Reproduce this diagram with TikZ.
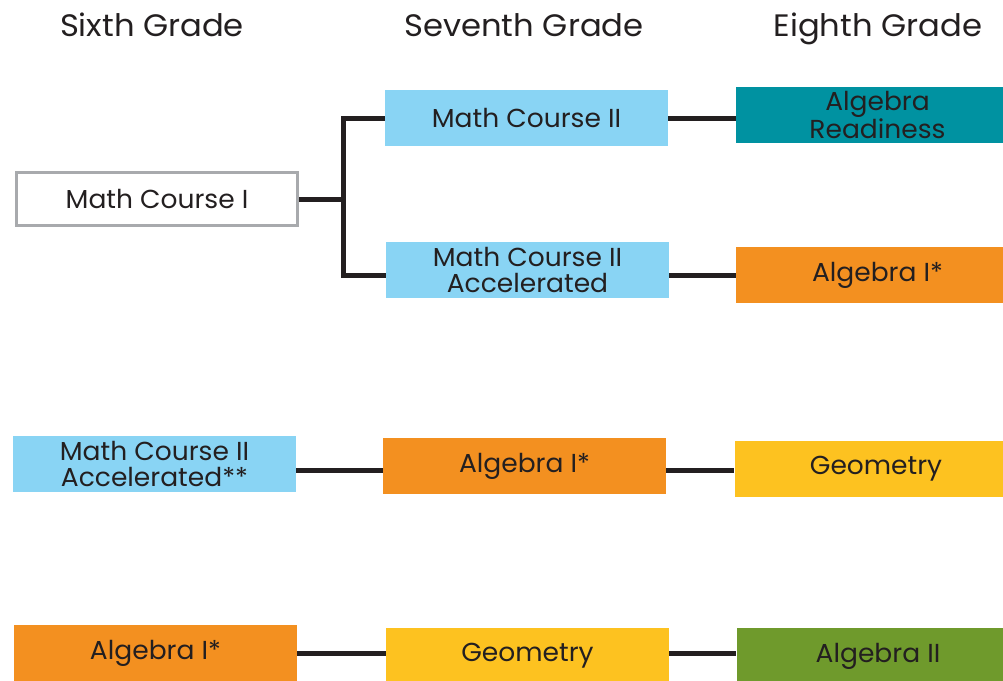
\documentclass[tikz,border=0pt]{standalone}
\usepackage{fontspec}
\setmainfont{Poppins}
\newfontfamily\headfont[FakeStretch=1.04]{Poppins}
\newfontfamily\boxfont[FakeStretch=1.02]{Poppins}
\definecolor{txt}{HTML}{231F20}
\definecolor{lblue}{HTML}{89D4F4}
\definecolor{teal}{HTML}{0092A1}
\definecolor{orng}{HTML}{F39020}
\definecolor{yell}{HTML}{FDC220}
\definecolor{grn}{HTML}{6F9A2C}
\definecolor{gborder}{HTML}{A8AAAD}
\begin{document}
\begin{tikzpicture}[x=1pt,y=-1pt,
  box/.style={minimum width=283pt,minimum height=56pt,inner sep=0pt,align=center,
    text=txt,font=\boxfont\fontsize{26}{26}\selectfont},
  whitebox/.style={box,draw=gborder,line width=3pt,fill=white,minimum width=281pt,minimum height=53pt},
  bluebox/.style={box,fill=lblue},
  tealbox/.style={box,fill=teal},
  orangebox/.style={box,fill=orng},
  yellowbox/.style={box,fill=yell},
  greenbox/.style={box,fill=grn},
  head/.style={text=txt,font=\headfont\fontsize{31}{34}\selectfont,inner sep=0pt},
  link/.style={draw=txt,line width=5pt}]
\useasboundingbox (0,0) rectangle (1003,680);
\begin{scope}
\clip (0,0) rectangle (1003,680);
% headers
\node[head,anchor=base] (h6) at (152,36) {Sixth Grade};
\node[head,anchor=base] (h7) at (524,36) {Seventh Grade};
\node[head,anchor=base] (h8) at (878,36) {Eighth Grade};
% row 1-2
\node[whitebox] (mc1) at (157,199) {Math Course I};
\node[bluebox] (mc2) at (526.5,118) {Math Course II};
\node[tealbox] (ar) at (877.5,115) {Algebra\\Readiness};
\node[bluebox] (mc2a) at (527.5,270) {Math Course II\\Accelerated};
\node[orangebox] (a1a) at (877.5,275) {Algebra I*};
\coordinate (j) at (343,199);
\coordinate (y2) at (0,275);
\coordinate (y3) at (0,470);
\coordinate (y4) at (0,653);
% row 3
\node[bluebox] (mc2b) at (154.5,463.5) {Math Course II\\Accelerated**};
\node[orangebox] (a1b) at (524.5,466) {Algebra I*};
\node[yellowbox] (geo1) at (876,469) {Geometry};
% row 4
\node[orangebox] (a1c) at (155.5,653) {Algebra I*};
\node[yellowbox] (geo2) at (527.5,656) {Geometry};
\node[greenbox] (a2) at (878,656) {Algebra II};
% connectors
\draw[link] (mc1.east) -- (j);
\draw[link,line join=miter] (mc2.west) -| (j);
\draw[link,line join=miter] (mc2a.west |- y2) -| (j);
\draw[link] (mc2.east) -- (mc2.east -| ar.west);
\draw[link] (mc2a.east |- y2) -- (a1a.west |- y2);
\draw[link] (mc2b.east |- y3) -- (a1b.west |- y3);
\draw[link] (a1b.east |- y3) -- (geo1.west |- y3);
\draw[link] (a1c.east |- y4) -- (geo2.west |- y4);
\draw[link] (geo2.east |- y4) -- (a2.west |- y4);
\end{scope}
\end{tikzpicture}
\end{document}
